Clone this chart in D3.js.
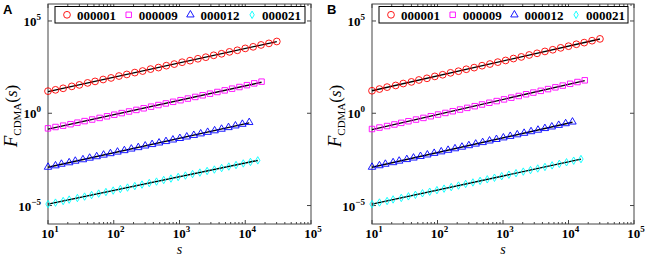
<!DOCTYPE html>
<html>
<head>
<meta charset="utf-8">
<script src="https://cdn.jsdelivr.net/npm/d3@7"></script>
<style>
  body { margin: 0; background: #fff; }
  text { font-family: "Liberation Serif", "DejaVu Serif", serif; }
</style>
</head>
<body>
<div id="chart"></div>
<script>
// stock codes shown in the legend
const codes = ["000001", "000009", "000012", "000021"]

// scales s for each stock (same in both panels)
const s1  = [10,13,17,23,30,40,52,69,91,120,158,209,275,363,479,631,832,1096,1445,1905,2512,3311,4365,5754,7586,10000,13183,17378,22909,30200]
const s9  = [10,13,17,22,28,36,47,61,79,102,132,171,221,285,370,478,619,801,1037,1340,1740,2250,2910,3770,4870,6310,8160,10600,13700,17700]
const s12 = [10,13,16,21,26,34,43,55,70,89,114,145,185,236,301,383,489,623,794,1013,1290,1650,2100,2680,3420,4360,5560,7090,9040,11500]
const s21 = [10,13,17,21,28,36,46,59,76,98,126,162,209,269,347,447,575,741,955,1230,1580,2040,2630,3390,4370,5620,7240,9330,12000,15500]

// panel A: F_CDMA(s)
const fA1  = [15.8,18.6,22.5,28.6,34.4,44.1,53.2,67.5,82.1,104,127,160,194,247,299,379,461,583,709,897,1090,1380,1670,2120,2580,3270,3980,5030,6120,7740]
const fA9  = [0.152,0.180,0.213,0.256,0.309,0.376,0.458,0.559,0.684,0.836,1.02,1.25,1.52,1.86,2.28,2.79,3.41,4.17,5.10,6.25,7.66,9.40,11.5,14.2,17.4,21.5,26.4,33.3,41.6,51.5]
const fA12 = [0.00121,0.00144,0.00176,0.00211,0.00257,0.00308,0.00375,0.00450,0.00549,0.00658,0.00800,0.00960,0.0117,0.0140,0.0171,0.0205,0.0249,0.0298,0.0362,0.0437,0.0528,0.0640,0.0776,0.0940,0.114,0.139,0.170,0.209,0.257,0.320]
const fA21 = [1.20e-5,1.44e-5,1.76e-5,2.10e-5,2.56e-5,3.06e-5,3.71e-5,4.46e-5,5.40e-5,6.48e-5,7.85e-5,9.42e-5,1.14e-4,1.37e-4,1.66e-4,1.99e-4,2.42e-4,2.90e-4,3.52e-4,4.22e-4,5.11e-4,6.13e-4,7.45e-4,8.93e-4,1.08e-3,1.30e-3,1.57e-3,1.91e-3,2.30e-3,2.80e-3]

// panel B: F_CDMA(s)
const fB1  = [16.6,20.5,26.1,32.1,40.8,50.1,63.6,78.3,99.4,122,155,190,242,297,378,465,590,725,921,1130,1440,1770,2240,2760,3500,4310,5470,6730,8550,10700]
const fB9  = [0.140,0.168,0.203,0.247,0.302,0.370,0.455,0.560,0.690,0.850,1.04,1.29,1.59,1.96,2.42,2.99,3.70,4.57,5.65,6.99,8.62,10.7,13.2,16.4,20.4,25.4,31.6,39.5,49.2,61.0]
const fB12 = [0.00121,0.00146,0.00176,0.00214,0.00259,0.00315,0.00381,0.00464,0.00561,0.00683,0.00825,0.0100,0.0121,0.0148,0.0178,0.0217,0.0262,0.0320,0.0386,0.0470,0.0567,0.0692,0.0835,0.102,0.123,0.151,0.184,0.225,0.276,0.340]
const fB21 = [1.20e-5,1.46e-5,1.76e-5,2.14e-5,2.59e-5,3.15e-5,3.81e-5,4.64e-5,5.61e-5,6.83e-5,8.25e-5,1.00e-4,1.21e-4,1.48e-4,1.78e-4,2.17e-4,2.63e-4,3.20e-4,3.88e-4,4.70e-4,5.68e-4,6.92e-4,8.36e-4,1.02e-3,1.23e-3,1.50e-3,1.82e-3,2.21e-3,2.69e-3,3.30e-3]

// tick labels (exponents of 10)
const xTickExp = [1, 2, 3, 4, 5]
const yTickExp = [-5, 0, 5]

const width = 645
const height = 257

const colors = ["#ff0000", "#ff00ff", "#0000ff", "#00ffff"]
const symbols = [
  d3.symbol().type(d3.symbolCircle).size(36),
  d3.symbol().type(d3.symbolSquare).size(30),
  d3.symbol().type(d3.symbolTriangle).size(24),
  d3.symbol().type(d3.symbolDiamond).size(16)
]

const svg = d3.select("#chart")
  .append("svg")
  .attr("width", width)
  .attr("height", height)

function drawPanel(label, left, right, fs) {
  const top = 4, bottom = 224
  const x = d3.scaleLog().domain([10, 1e5]).range([left, right])
  const y = d3.scaleLog().domain([1e-6, Math.pow(10, 5.92)]).range([bottom, top])
  const g = svg.append("g")

  const sets = [s1, s9, s12, s21].map((s, i) => s.map((v, j) => ({s: v, f: fs[i][j]})))

  // frame
  g.append("rect")
    .attr("x", left).attr("y", top)
    .attr("width", right - left).attr("height", bottom - top)
    .attr("fill", "none").attr("stroke", "#444").attr("stroke-width", 1)

  // x ticks, major and minor, pointing inside on bottom and top
  const minor = x.ticks().filter(v => Math.abs(Math.log10(v) - Math.round(Math.log10(v))) > 1e-6)
  const major = xTickExp.map(e => Math.pow(10, e))
  ;[[bottom, -1], [top, 1]].forEach(([yy, dir]) => {
    g.selectAll(null).data(minor).join("line")
      .attr("x1", d => x(d)).attr("x2", d => x(d))
      .attr("y1", yy).attr("y2", yy + dir * 2)
      .attr("stroke", "#444")
    g.selectAll(null).data(major).join("line")
      .attr("x1", d => x(d)).attr("x2", d => x(d))
      .attr("y1", yy).attr("y2", yy + dir * 4)
      .attr("stroke", "#444")
  })
  // y ticks on left and right
  ;[[left, 1], [right, -1]].forEach(([xx, dir]) => {
    g.selectAll(null).data(yTickExp).join("line")
      .attr("x1", xx).attr("x2", xx + dir * 4)
      .attr("y1", d => y(Math.pow(10, d))).attr("y2", d => y(Math.pow(10, d)))
      .attr("stroke", "#444")
  })

  // x tick labels 10^e
  const xl = g.selectAll(null).data(xTickExp).join("text")
    .attr("x", d => x(Math.pow(10, d)) + 2)
    .attr("y", 237.5)
    .attr("text-anchor", "middle")
    .style("font-weight", "bold").style("font-size", "13px")
  xl.append("tspan").text("10")
  xl.append("tspan").attr("dy", -6).style("font-size", "9px").text(d => d)

  // y tick labels
  const yl = g.selectAll(null).data(yTickExp).join("text")
    .attr("x", left - 7)
    .attr("y", d => y(Math.pow(10, d)) + 5)
    .attr("text-anchor", "end")
    .style("font-weight", "bold").style("font-size", "13px")
  yl.append("tspan").text("10")
  yl.append("tspan").attr("dy", -6).style("font-size", "9px").text(d => d === -5 ? "\u22125" : d)

  // axis labels
  g.append("text")
    .attr("x", (left + right) / 2).attr("y", 253.5)
    .attr("text-anchor", "middle")
    .style("font-style", "italic").style("font-size", "14px")
    .text("s")
  const yt = g.append("text")
    .attr("transform", `translate(${left - 31},${(top + bottom) / 2 + 2}) rotate(-90)`)
    .attr("text-anchor", "middle")
    .style("font-size", "17px")
  yt.append("tspan").style("font-style", "italic").style("font-size", "19px").text("F")
  yt.append("tspan").attr("dy", 4).style("font-size", "11px").text("CDMA")
  yt.append("tspan").attr("dy", -4).text("(")
  yt.append("tspan").style("font-style", "italic").text("s")
  yt.append("tspan").text(")")

  // power-law fits (least squares in log-log) as black lines
  sets.forEach(d => {
    const lx = d.map(p => Math.log10(p.s)), ly = d.map(p => Math.log10(p.f))
    const mx = d3.mean(lx), my = d3.mean(ly)
    const b = d3.sum(lx.map((v, i) => (v - mx) * (ly[i] - my))) / d3.sum(lx.map(v => (v - mx) * (v - mx)))
    const a = my - b * mx
    const x0 = d[0].s, x1 = d[d.length - 1].s
    g.append("line")
      .attr("x1", x(x0)).attr("y1", y(Math.pow(10, a + b * Math.log10(x0))))
      .attr("x2", x(x1)).attr("y2", y(Math.pow(10, a + b * Math.log10(x1))))
      .attr("stroke", "#000").attr("stroke-width", 1.4)
  })

  // markers
  sets.forEach((d, i) => {
    g.append("g").selectAll("path").data(d).join("path")
      .attr("transform", p => `translate(${x(p.s)},${y(p.f)})`)
      .attr("d", symbols[i])
      .attr("fill", "none")
      .attr("stroke", colors[i])
      .attr("stroke-width", 0.9)
  })

  // legend
  const lg = g.append("g")
  lg.append("rect")
    .attr("x", left + 7).attr("y", 6.5)
    .attr("width", right - left - 13).attr("height", 16.5)
    .attr("fill", "#fff").attr("stroke", "#000").attr("stroke-width", 1)
  codes.forEach((c, i) => {
    const mx = left + 19 + i * 61.7
    lg.append("path")
      .attr("transform", `translate(${mx},14.8)`)
      .attr("d", symbols[i])
      .attr("fill", "none").attr("stroke", colors[i]).attr("stroke-width", 0.9)
    lg.append("text")
      .attr("x", mx + 10).attr("y", 19.5)
      .style("font-weight", "bold").style("font-size", "13px")
      .text(c)
  })

  // panel letter
  g.append("text")
    .attr("x", left - 45).attr("y", 14)
    .style("font-family", "'Liberation Sans', Arial, sans-serif")
    .style("font-weight", "bold").style("font-size", "13px")
    .text(label)
}

drawPanel("A", 48, 311, [fA1, fA9, fA12, fA21])
drawPanel("B", 372, 634, [fB1, fB9, fB12, fB21])
</script>
</body>
</html>
